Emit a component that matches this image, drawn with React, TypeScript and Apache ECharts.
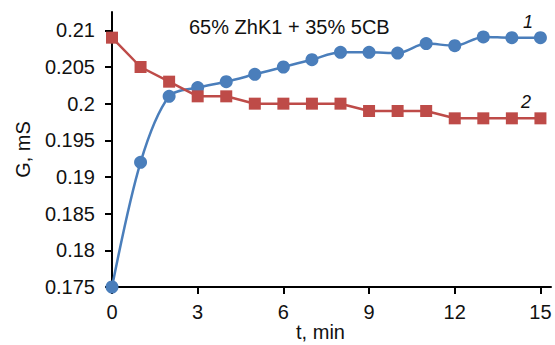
import React, { useEffect, useRef } from "react";
import * as echarts from "echarts";

const times = [0, 1, 2, 3, 4, 5, 6, 7, 8, 9, 10, 11, 12, 13, 14, 15];
const series1 = [0.175, 0.192, 0.201, 0.2022, 0.203, 0.204, 0.205, 0.206, 0.207, 0.207, 0.2069, 0.2082, 0.2079, 0.2091, 0.209, 0.209];
const series2 = [0.209, 0.205, 0.203, 0.201, 0.201, 0.2, 0.2, 0.2, 0.2, 0.199, 0.199, 0.199, 0.198, 0.198, 0.198, 0.198];
const xTicks = [0, 3, 6, 9, 12, 15];
const yTicks = [0.175, 0.18, 0.185, 0.19, 0.195, 0.2, 0.205, 0.21];
const titleText = "65% ZhK1 + 35% 5CB";
const FONT = "Liberation Sans, Arial, sans-serif";

export default function App() {
  const ref = useRef<HTMLDivElement>(null);
  useEffect(() => {
    document.body.style.margin = "0";
    const chart = echarts.init(ref.current!, null, { renderer: "svg" });
    const axisCommon = {
      axisLine: { show: true, lineStyle: { color: "#000", width: 2 } },
      axisTick: { show: true, inside: false, length: 7, lineStyle: { color: "#000", width: 2 } },
      splitLine: { show: false },
    };
    chart.setOption({
      animation: false,
      backgroundColor: "#fff",
      title: {
        text: titleText,
        left: 184,
        top: 12,
        textStyle: { fontFamily: FONT, fontSize: 20, fontWeight: "normal", color: "#111" },
      },
      grid: { left: 112, right: 4, top: 12, bottom: 58, containLabel: false, outerBoundsMode: "none" },
      xAxis: {
        type: "value",
        min: 0,
        max: 15.37,
        interval: 3,
        name: "t, min",
        nameLocation: "middle",
        nameGap: 36,
        nameMoveOverlap: false,
        nameTextStyle: { fontFamily: FONT, fontSize: 20, lineHeight: 18, color: "#111", padding: [0, 22, 0, 0] },
        ...axisCommon,
        axisTick: { ...axisCommon.axisTick, customValues: xTicks },
        axisLabel: { customValues: xTicks, fontFamily: FONT, fontSize: 20, color: "#111", margin: 15 },
      },
      yAxis: {
        type: "value",
        min: 0.175,
        max: 0.2125,
        interval: 0.005,
        name: "G, mS",
        nameLocation: "middle",
        nameGap: 79,
        nameMoveOverlap: false,
        nameTextStyle: { fontFamily: FONT, fontSize: 20, color: "#111" },
        ...axisCommon,
        axisTick: { ...axisCommon.axisTick, customValues: yTicks },
        axisLabel: {
          customValues: yTicks,
          fontFamily: FONT,
          fontSize: 20,
          color: "#111",
          margin: 17,
          formatter: (v: number) => String(Number(v.toFixed(4))),
        },
      },
      series: [
        {
          type: "line",
          data: times.map((t, i) => [t, series1[i]]),
          smooth: 0.3,
          symbol: "circle",
          symbolSize: 13,
          lineStyle: { color: "#4A7EBB", width: 2.5 },
          itemStyle: { color: "#4A7EBB" },
          clip: false,
          z: 2,
        },
        {
          type: "line",
          data: times.map((t, i) => [t, series2[i]]),
          symbol: "rect",
          symbolSize: 12,
          lineStyle: { color: "#BE4B48", width: 2.5 },
          itemStyle: { color: "#BE4B48" },
          clip: false,
          z: 3,
        },
      ],
      graphic: [
        {
          type: "text",
          left: 523,
          top: 13,
          style: { text: "1", fontFamily: FONT, fontSize: 18, fontStyle: "italic", fill: "#111" },
        },
        {
          type: "text",
          left: 521,
          top: 93,
          style: { text: "2", fontFamily: FONT, fontSize: 18, fontStyle: "italic", fill: "#111" },
        },
      ],
    });
    return () => chart.dispose();
  }, []);
  return <div ref={ref} style={{ width: 555, height: 345, position: "absolute", left: 0, top: 0 }} />;
}
